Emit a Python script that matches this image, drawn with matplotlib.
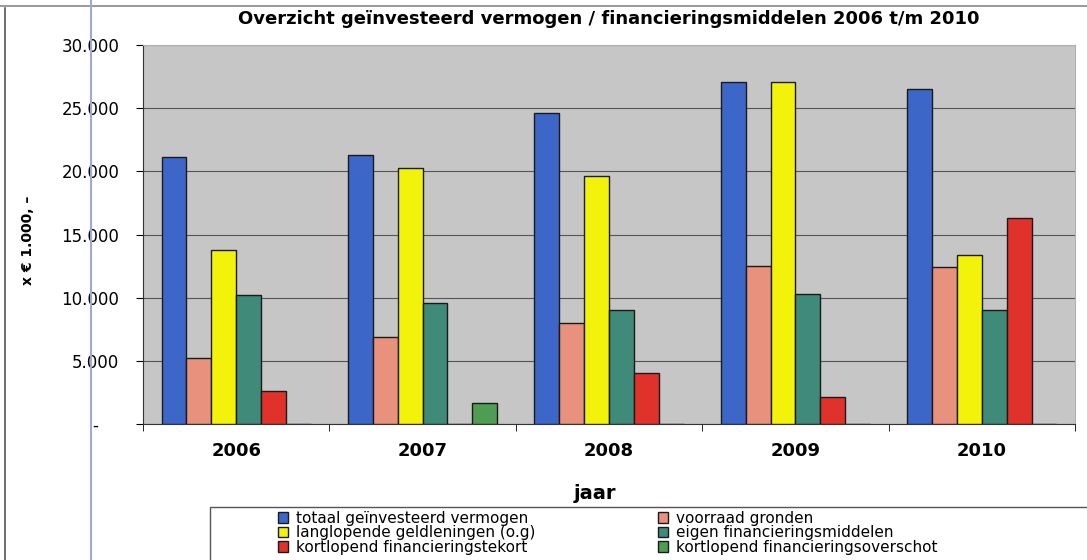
import numpy as np
import matplotlib
matplotlib.use("Agg")
import matplotlib.pyplot as plt
from matplotlib.ticker import FixedLocator
from matplotlib.patches import Rectangle
from matplotlib.lines import Line2D

plt.rcParams['font.family'] = ['DejaVu Sans']

# data (x € 1.000)
jaren = ['2006', '2007', '2008', '2009', '2010']
series = ['totaal geïnvesteerd vermogen', 'voorraad gronden',
          'langlopende geldleningen (o.g)', 'eigen financieringsmiddelen',
          'kortlopend financieringstekort', 'kortlopend financieringsoverschot']
totaal = [21150, 21300, 24600, 27050, 26550]
voorraad = [5250, 6900, 8000, 12500, 12400]
langlopend = [13800, 20250, 19600, 27050, 13400]
eigen = [10200, 9550, 9000, 10300, 9000]
tekort = [2600, 0, 4050, 2150, 16300]
overschot = [0, 1700, 0, 0, 0]
ytick_labels = ['-    ', '5.000', '10.000', '15.000', '20.000', '25.000', '30.000']
colors = ['#3d66c9', '#e8917c', '#f2f20a', '#3f8a78', '#e0322a', '#4f9d52']

values = [totaal, voorraad, langlopend, eigen, tekort, overschot]

fig = plt.figure(figsize=(10.87, 5.60), dpi=100)
W, H = 1087, 560

# scan-like page lines
fig.add_artist(Line2D([5 / W, 5 / W], [0, 0.985], color='#555555', lw=1.2))
fig.add_artist(Line2D([0, 1], [0.99, 0.99], color='#888888', lw=1.2))
fig.add_artist(Line2D([91 / W, 91 / W], [0, 1], color='#9fa8d8', lw=1.5))

ax = fig.add_axes([143 / W, 1 - 424 / H, 932 / W, 379 / H])
ax.set_facecolor('#c6c6c6')

x = np.arange(len(jaren))
w = 1 / 7.5
bars = []
for i, (vals, c) in enumerate(zip(values, colors)):
    b = ax.bar(x + (i - 2.5) * w, vals, width=w, color=c,
               edgecolor='#1a1a1a', linewidth=1.0, zorder=3)
    bars.append(b)

ax.set_xlim(-0.5, len(jaren) - 0.5)
ax.set_ylim(0, 30000)
ax.set_yticks(np.arange(0, 30001, 5000))
ax.set_yticklabels(ytick_labels, fontsize=12)
ax.yaxis.grid(True, color='#555555', linewidth=0.8, zorder=1)
ax.set_xticks(x)
ax.set_xticklabels(jaren, fontsize=13, fontweight='bold')
ax.tick_params(axis='x', which='major', length=0, pad=13)
ax.xaxis.set_minor_locator(FixedLocator(np.arange(-0.5, len(jaren), 1)))
ax.tick_params(axis='x', which='minor', length=5, direction='out')
ax.tick_params(axis='y', length=5, direction='out', pad=12)

for s in ['top', 'right']:
    ax.spines[s].set_color('#b0b0b0')
ax.spines['left'].set_color('#333333')
ax.spines['bottom'].set_color('#333333')

ax.set_xlabel('jaar', fontsize=14, fontweight='bold')
ax.xaxis.set_label_coords(0.485, -0.158)
ax.set_ylabel('x € 1.000, –', fontsize=10, fontweight='bold')
ax.yaxis.set_label_coords(-0.116, 0.485)
ax.set_title('Overzicht geïnvesteerd vermogen / financieringsmiddelen 2006 t/m 2010',
             fontsize=13, fontweight='bold', pad=15)

# legend box
fig.add_artist(Rectangle((210 / W, -0.05), 0.9, 0.05 + 53 / H, transform=fig.transFigure,
                         facecolor='white', edgecolor='#555555', lw=1.0, zorder=0))
order = [0, 2, 4, 1, 3, 5]
leg = fig.legend([bars[k] for k in order], [series[k] for k in order],
                 ncol=2, loc='upper left', bbox_to_anchor=(270 / W, 1 - 503 / H),
                 fontsize=11, frameon=False, columnspacing=8.0,
                 handlelength=0.7, handleheight=0.7, handletextpad=0.5,
                 labelspacing=-0.02, borderpad=0.0)

fig.savefig('out.png', dpi=100)
